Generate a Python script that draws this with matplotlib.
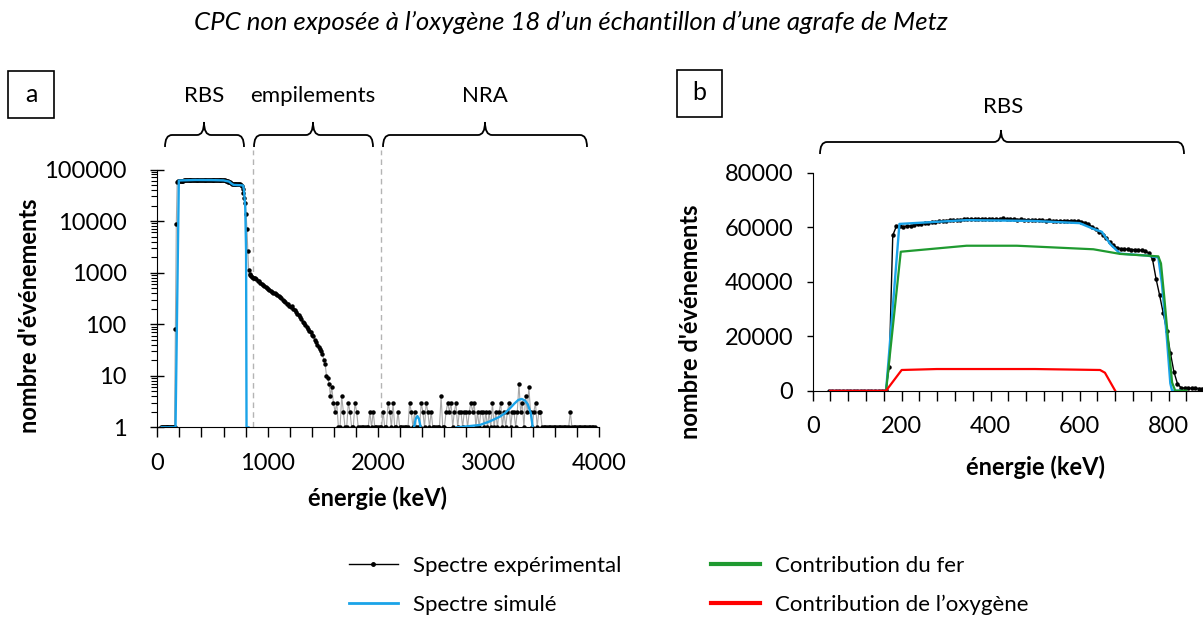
import numpy as np
import matplotlib
matplotlib.use("Agg")
import matplotlib.pyplot as plt
from matplotlib.lines import Line2D
from matplotlib.path import Path
from matplotlib.patches import PathPatch, Rectangle
from matplotlib.ticker import MultipleLocator, FixedLocator, NullFormatter

plt.rcParams['font.family'] = ['Lato', 'DejaVu Sans']

# spectre expérimental, partie RBS : canaux de 8 keV à partir de 36 keV
rbs_e0, rbs_pas = 36, 8
rbs_coups = [
    0, 0, 0, 0, 0, 0, 0, 0, 0, 0, 0, 0, 0, 0, 0, 0, 80,
    8600, 57000, 60300, 60300, 60200, 60400, 60500, 60800, 61000, 61300,
    61500, 61700, 61900, 62000, 62200, 62300, 62400, 62600, 62500, 62700,
    62800, 62900, 63000, 62900, 63000, 63100, 63000, 62900, 63000, 63100,
    62900, 63000, 63200, 63100, 62900, 63000, 62800, 62900, 62700, 62800,
    62600, 62700, 62500, 62600, 62400, 62500, 62300, 62400, 62200, 62400,
    62300, 62400, 62200, 62300, 62000, 61700, 61000, 60200, 59300, 58400,
    57300, 56000, 54500, 53300, 52500, 52100, 51900, 51900, 51800, 51800,
    51600, 51500, 51200, 50500, 48200, 41000, 35000, 28500, 22000, 14000,
    7000, 2600, 1100, 950, 900, 870, 840, 800, 780,
]
# empilements : canaux de 12 keV à partir de 884 keV
emp_e0, emp_pas = 884, 12
emp_coups = [
    780, 740, 700, 680, 640, 610, 580, 560, 530, 510, 490, 470, 450, 430,
    410, 395, 380, 370, 350, 330, 320, 300, 285, 270, 250, 245, 230, 215,
    230, 195, 185, 170, 160, 150, 135, 125, 110, 105, 95, 90, 80, 75, 70,
    62, 58, 50, 45, 40, 36, 33, 30, 26, 20, 17, 10, 9, 7, 4, 6,
]
# NRA : canaux de 15 keV à partir de 1595 keV
nra_e0, nra_pas = 1595, 15
nra_coups = [
    3, 2, 3, 1, 1, 4, 2, 1, 1, 3, 2, 1, 1, 3, 2, 1, 1, 1, 1, 1,
    1, 1, 2, 1, 2, 1, 1, 1, 1, 1, 2, 1, 1, 3, 2, 1, 3, 1, 1, 2,
    1, 1, 1, 1, 1, 1, 3, 2, 1, 2, 1, 1, 1, 3, 2, 1, 3, 2, 1, 2,
    1, 1, 1, 1, 1, 4, 1, 1, 2, 3, 2, 3, 1, 2, 3, 1, 2, 2, 1, 2,
    2, 1, 2, 3, 2, 3, 1, 2, 1, 2, 2, 1, 2, 1, 2, 1, 3, 1, 2, 1,
    2, 3, 1, 2, 1, 2, 3, 1, 2, 2, 1, 2, 7, 2, 3, 1, 4, 2, 6, 2,
    1, 2, 3, 1, 2, 2, 1, 1, 1, 1, 1, 1, 1, 1, 1, 1, 1, 1, 1, 1,
    1, 1, 1, 2, 1, 1, 1, 1, 1, 1, 1, 1, 1, 1, 1, 1, 1, 1, 1,
]

# spectre simulé (RBS) et contributions
sim_e = [39, 165, 195, 260, 346, 496, 600, 631, 650, 669, 691, 751, 777, 785, 796, 804, 808, 825]
sim_n = [0, 0, 61200, 61800, 62600, 62300, 61500, 59400, 58300, 53800, 50300, 49600, 48900, 39400, 19800, 2700, 0, 0]
# spectre simulé (NRA)
nra1_e = [2325, 2340, 2355, 2370, 2385]
nra1_n = [1, 1.45, 1.65, 1.45, 1]
nra2_e = [2712, 2800, 2922, 3010, 3103, 3150, 3194, 3235, 3270, 3300, 3330, 3355, 3383, 3400]
nra2_n = [1, 1.04, 1.11, 1.3, 1.61, 1.9, 2.34, 2.9, 3.4, 3.55, 3.3, 2.8, 1.87, 1]
fer_e = [165, 198, 346, 459, 631, 691, 777, 783, 790, 800, 808, 815, 840]
fer_n = [0, 51000, 53200, 53200, 51900, 50200, 49300, 46700, 35000, 17000, 3000, 0, 0]
oxy_e = [39, 165, 200, 279, 500, 646, 657, 680]
oxy_n = [0, 0, 7600, 7950, 7950, 7600, 6600, 0]

exp_e = np.concatenate([rbs_e0 + rbs_pas * np.arange(len(rbs_coups)),
                        emp_e0 + emp_pas * np.arange(len(emp_coups)),
                        nra_e0 + nra_pas * np.arange(len(nra_coups))])
exp_n = np.array(rbs_coups + emp_coups + nra_coups, dtype=float)

bleu = "#1aa3e8"
vert = "#1f9a30"
rouge = "#ff0000"

W, H = 1203, 617
fig = plt.figure(figsize=(W / 100, H / 100), dpi=100)

def px_axes(x0, y_haut, x1, y_bas):  # rectangle en pixels -> axes
    return fig.add_axes([x0 / W, 1 - y_bas / H, (x1 - x0) / W, (y_bas - y_haut) / H])

# ---------- graphe a ----------
ax = px_axes(157.3, 169.5, 599, 427.3)
ax.plot(exp_e, np.maximum(exp_n, 1), color="#a8a8a8", lw=0.8, zorder=2)
ax.plot(exp_e, np.maximum(exp_n, 1), ls="none", marker="o", ms=2.2, color="black", zorder=3)
ax.plot(sim_e, np.maximum(sim_n, 1), color=bleu, lw=1.7, zorder=4)
ax.plot(nra1_e, nra1_n, color=bleu, lw=1.7, zorder=4)
ax.plot(nra2_e, nra2_n, color=bleu, lw=1.7, zorder=4)
ax.set_yscale("log")
ax.set_xlim(0, 4000)
ax.set_ylim(1, 100000)
ax.set_yticks([1, 10, 100, 1000, 10000, 100000], ["1", "10", "100", "1000", "10000", "100000"])
ax.yaxis.set_minor_locator(FixedLocator([m * 10 ** d for d in range(5) for m in range(2, 10)]))
ax.yaxis.set_minor_formatter(NullFormatter())
ax.xaxis.set_major_locator(MultipleLocator(1000))
ax.xaxis.set_minor_locator(MultipleLocator(200))
for s in ["top", "right"]:
    ax.spines[s].set_visible(False)
ax.tick_params(axis="x", which="both", direction="out", length=7.5, width=1, labelsize=17, pad=11)
ax.tick_params(axis="y", which="major", direction="inout", length=10, width=1, labelsize=17, pad=17)
ax.tick_params(axis="y", which="minor", direction="out", length=4.5, width=0.8)
for x in [867, 2026]:
    ax.axvline(x, ymin=0, ymax=(427.3 - 150) / (427.3 - 169.5), color="#b4b4b4", lw=1, ls=(0, (4, 3)), clip_on=False, zorder=1)

# ---------- graphe b ----------
bx = px_axes(812.7, 172.7, 1257.5, 390.7)
bx.plot(exp_e, exp_n, color="black", lw=1, marker="o", ms=2.2, zorder=2)
bx.plot(sim_e, sim_n, color=bleu, lw=1.7, zorder=3)
bx.plot(fer_e, fer_n, color=vert, lw=1.6, zorder=3)
bx.plot(oxy_e, oxy_n, color=rouge, lw=1.6, zorder=4)
bx.set_xlim(0, 1000)
bx.set_ylim(0, 80000)
bx.yaxis.set_major_locator(MultipleLocator(20000))
bx.xaxis.set_major_locator(FixedLocator([0, 200, 400, 600, 800]))
bx.xaxis.set_minor_locator(MultipleLocator(40))
for s in ["top", "right"]:
    bx.spines[s].set_visible(False)
bx.tick_params(axis="x", which="both", direction="out", length=7.5, width=1, labelsize=17, pad=11)
bx.tick_params(axis="y", direction="out", length=4, width=1, labelsize=17, pad=10)

# ---------- textes et accolades ----------
ov = fig.add_axes([0, 0, 1, 1], zorder=10)
ov.set_xlim(0, W)
ov.set_ylim(H, 0)
ov.axis("off")

def accolade(x0, x1, xc, y_bout, y_barre, y_pic, r=7):
    verts = [(x0, y_bout), (x0, y_barre), (x0 + r, y_barre), (xc - r, y_barre),
             (xc, y_barre), (xc, y_pic), (xc, y_barre), (xc + r, y_barre),
             (x1 - r, y_barre), (x1, y_barre), (x1, y_bout)]
    codes = [Path.MOVETO, Path.CURVE3, Path.CURVE3, Path.LINETO,
             Path.CURVE3, Path.CURVE3, Path.CURVE3, Path.CURVE3,
             Path.LINETO, Path.CURVE3, Path.CURVE3]
    ov.add_patch(PathPatch(Path(verts, codes), fill=False, lw=1.3, color="black"))

for (x0, x1, xc), txt in [((165, 244, 204), "RBS"), ((254, 373, 313), "empilements"), ((383, 587, 485), "NRA")]:
    accolade(x0, x1, xc, 147, 135, 122)
    ov.text(xc, 96, txt, ha="center", va="center", fontsize=16)
accolade(820, 1184, 1001, 154, 142, 130)
ov.text(1003, 107, "RBS", ha="center", va="center", fontsize=16)

ov.add_patch(Rectangle((8, 71), 46, 47, fill=False, lw=1.2, ec="black"))
ov.text(31, 94, "a", ha="center", va="center", fontsize=18)
ov.add_patch(Rectangle((677, 70), 45, 47, fill=False, lw=1.2, ec="black"))
ov.text(699.5, 93, "b", ha="center", va="center", fontsize=18)

ov.text(571, 22, "CPC non exposée à l’oxygène 18 d’un échantillon d’une agrafe de Metz",
        ha="center", va="center", fontsize=18.5, style="italic")
ov.text(30, 316, "nombre d'événements", rotation=90, ha="center", va="center", fontsize=17, fontweight="bold")
ov.text(690, 322, "nombre d'événements", rotation=90, ha="center", va="center", fontsize=17, fontweight="bold")
ov.text(378, 498, "énergie (keV)", ha="center", va="center", fontsize=17, fontweight="bold")
ov.text(1035, 467, "énergie (keV)", ha="center", va="center", fontsize=17, fontweight="bold")

# ---------- légende ----------
poignees = [Line2D([0, 0.5, 1], [0, 0, 0], color="black", lw=1, marker="o", ms=2.5, markevery=[1]),
            Line2D([], [], color=bleu, lw=2),
            Line2D([], [], color=vert, lw=3),
            Line2D([], [], color=rouge, lw=3)]
fig.legend(poignees, ["Spectre expérimental", "Spectre simulé", "Contribution du fer", "Contribution de l’oxygène"],
           loc="upper left", bbox_to_anchor=(349 / W, 1 - 556 / H), ncol=2, frameon=False,
           fontsize=16, handlelength=2.2, handletextpad=0.7, columnspacing=4.0, labelspacing=0.85, borderpad=0,
           borderaxespad=0)

fig.savefig("out.png", dpi=100)
